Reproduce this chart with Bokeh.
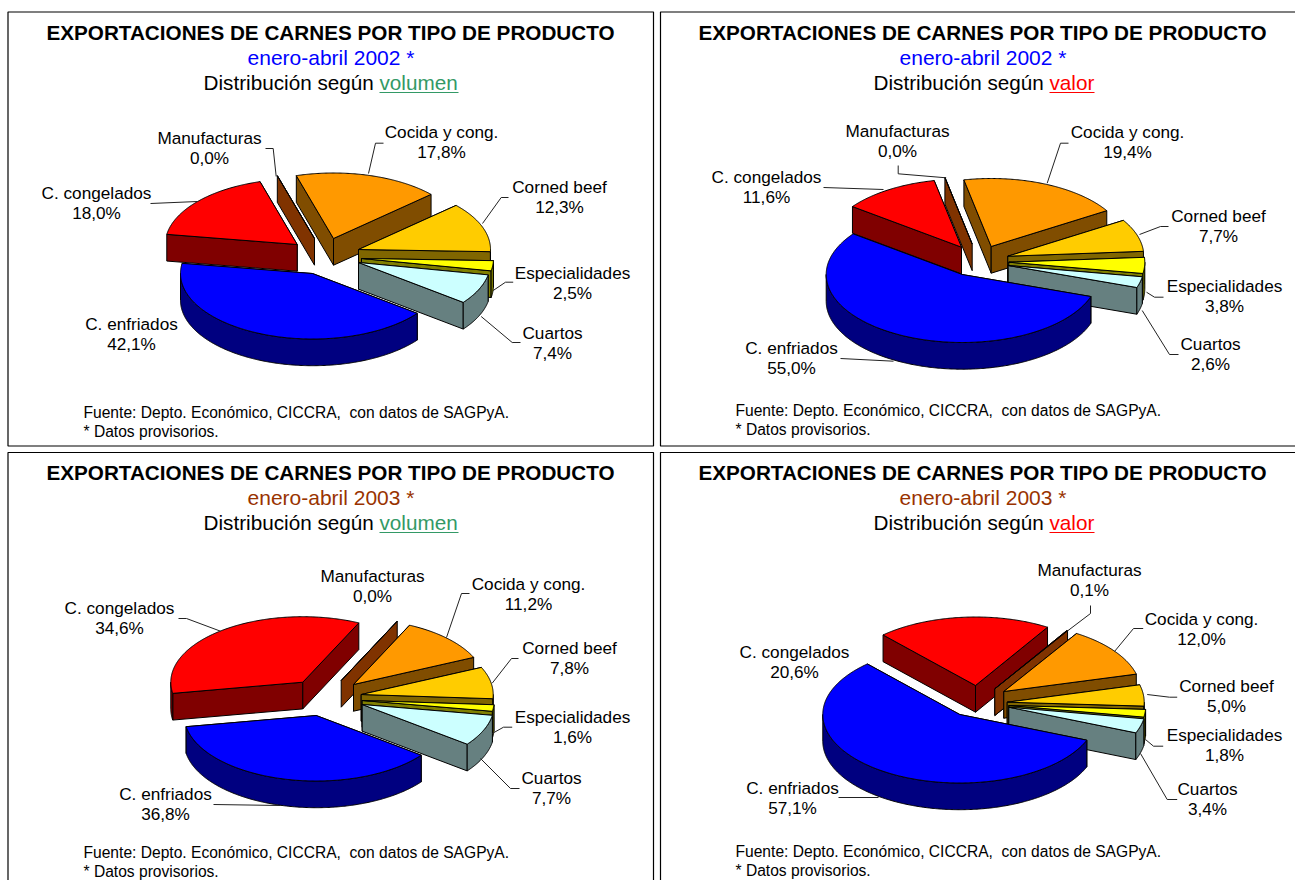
import math
import numpy as np
from bokeh.models import Range1d
from bokeh.plotting import figure
from bokeh.embed import file_html
from bokeh.resources import INLINE
from bokeh.core.properties import value

# ---------- data ----------
categories = ["C. enfriados", "C. congelados", "Manufacturas", "Cocida y cong.",
              "Corned beef", "Especialidades", "Cuartos"]
volumen_2002 = [42.1, 18.0, 0.0, 17.8, 12.3, 2.5, 7.4]
valor_2002 = [55.0, 11.6, 0.0, 19.4, 7.7, 3.8, 2.6]
volumen_2003 = [36.8, 34.6, 0.0, 11.2, 7.8, 1.6, 7.7]
valor_2003 = [57.1, 20.6, 0.1, 12.0, 5.0, 1.8, 3.4]

title_text = "EXPORTACIONES DE CARNES POR TIPO DE PRODUCTO"
source_text = "Fuente: Depto. Económico, CICCRA, \u00a0con datos de SAGPyA."
note_text = "* Datos provisorios."

# ---------- styles ----------
top_colors = ["#0000FF", "#FF0000", "#993300", "#FF9900", "#FFCC00", "#FFFF00", "#CCFFFF"]
wall_colors = ["#000080", "#800000", "#803300", "#804D00", "#806600", "#808000", "#668080"]
FONT = value("Liberation Sans")
W, H = 1295, 880
DEPTH = 26.7
DRAW_ORDER = [1, 2, 3, 4, 5, 6, 0]
BIG, MID, SMALL = "20.7px", "17.2px", "15.6px"

# ---------- layout: order of the lists follows `categories` ----------
panels = [
    dict(values=volumen_2002, cx=330, subtitle="enero-abril 2002 *", sub_color="#0000FF",
         word="volumen", word_color="#339966", split=379, ys=(32, 57, 82), foot=(83, 412, 431),
         rx=132, ry=65.5, start=127.5,
         hubs=[(312, 273), (296.7, 244), (314, 238), (333, 238), (358, 249), (361, 258), (358, 262)],
         labels=[(131, 323), (96, 192), (209, 137), (441, 131), (559, 186), (572, 272), (552, 332)],
         leaders=[None,
                  [(150, 203), (197, 201)],
                  [(265, 148), (272.7, 148), (275.7, 176)],
                  [(383, 142.7), (375, 142.7), (368, 173)],
                  [(508, 197), (500.7, 197), (482, 223)],
                  [(512.7, 281.7), (505, 281.7), (492.7, 290)],
                  [(520, 342), (511.7, 342), (480.7, 316)]]),
    dict(values=valor_2002, cx=982, subtitle="enero-abril 2002 *", sub_color="#0000FF",
         word="valor", word_color="#FF0000", split=1049, ys=(32, 57, 82), foot=(735, 410, 429),
         rx=136, ry=68, start=108.9,
         hubs=[(961.7, 274), (961, 246.7), (971.7, 243.5), (990.7, 246), (1007.3, 255.7), (1008.3, 261.7), (1007.7, 265)],
         labels=[(791, 347), (766, 176), (897, 130), (1127, 131), (1218, 215), (1224, 285), (1210, 343)],
         leaders=[[(840, 358), (893, 360.7)],
                  [(823, 187), (883, 189)],
                  [(897.7, 165), (897.7, 173.3), (945.7, 177.3)],
                  [(1068, 142.7), (1060, 142.7), (1046.7, 182.7)],
                  [(1168, 226), (1160, 226), (1139, 234)],
                  [(1163, 296.7), (1154, 296.7), (1146, 291.7)],
                  [(1178, 354), (1169, 354), (1141.7, 310)]]),
    dict(values=volumen_2003, cx=330, subtitle="enero-abril 2003 *", sub_color="#993300",
         word="volumen", word_color="#339966", split=379, ys=(472, 497, 522), foot=(83, 852, 871),
         rx=132, ry=65.5, start=127.3,
         hubs=[(315.7, 715), (302.3, 681.7), (340.7, 680), (353, 684), (360.7, 694), (361.7, 700), (361.7, 704)],
         labels=[(165, 793), (119, 607), (372, 575), (528, 583), (569, 647), (572, 716), (551, 777)],
         leaders=[[(213, 804), (280, 805)],
                  [(178, 618), (186, 618), (220, 630.7)],
                  None,
                  [(469, 593), (461, 593), (446, 637)],
                  [(518, 658), (511, 658), (491.7, 682.7)],
                  [(511.7, 726.7), (503, 726.7), (491.7, 733)],
                  [(519, 788), (510, 788), (480, 758)]]),
    dict(values=valor_2003, cx=982, subtitle="enero-abril 2003 *", sub_color="#993300",
         word="valor", word_color="#FF0000", split=1049, ys=(472, 497, 522), foot=(735, 851, 870),
         rx=137, ry=68.5, start=112,
         hubs=[(959.3, 714), (975, 685), (994.3, 688.3), (1003.3, 691), (1006.7, 701.7), (1008.3, 705), (1008.3, 706.7)],
         labels=[(792, 787), (794, 651), (1089, 569), (1201, 618), (1226, 685), (1224, 734), (1207, 788)],
         leaders=[[(838, 797), (878, 797)],
                  None,
                  [(1090, 605), (1090, 613), (1066.7, 630.7)],
                  [(1142.7, 628), (1133, 628), (1114, 651)],
                  [(1176.7, 696.7), (1169, 696.7), (1146.7, 694)],
                  [(1162.7, 745.7), (1153, 745.7), (1145, 739)],
                  [(1176.7, 799), (1166.7, 799), (1140, 753)]]),
]
frames = [(7.5, 653, 11.5, 445.5), (660, 1297, 11.5, 445.5),
          (7.5, 653, 452, 883), (660, 1297, 452, 883)]

p = figure(width=W, height=H, output_backend="svg", toolbar_location=None,
           x_range=Range1d(0, W), y_range=Range1d(H, 0),
           min_border=0, outline_line_color=None)
p.xaxis.visible = False
p.yaxis.visible = False
p.grid.visible = False
p.background_fill_color = "white"


def rim(hub, rx, ry, deg, drop=0.0):
    t = np.radians(deg)
    return hub[0] + rx * np.sin(t), hub[1] - ry * np.cos(t) + drop


def wall(hub, rx, ry, deg, color):
    ex, ey = rim(hub, rx, ry, deg)
    xs = [hub[0], ex, ex, hub[0]]
    ys = [hub[1], ey, ey + DEPTH, hub[1] + DEPTH]
    p.patch(xs, ys, fill_color=color, line_color="black", line_width=1)


def draw_slice(hub, rx, ry, a, b, top, side):
    mid = (a + b) / 2
    mx, my = math.sin(math.radians(mid)) * rx, -math.cos(math.radians(mid)) * ry
    hidden, shown = [], []
    if b - a < 0.2:
        shown.append(a)
    else:
        for edge in (a, b):
            ex, ey = math.sin(math.radians(edge)) * rx, -math.cos(math.radians(edge)) * ry
            cross = ex * my - ey * mx
            (shown if ex * cross < 0 else hidden).append(edge)
    for edge in hidden + shown:
        wall(hub, rx, ry, edge, side)
    for shift in (-360, 0, 360):
        lo, hi = max(a, 90 + shift), min(b, 270 + shift)
        if hi > lo:
            th = np.linspace(lo, hi, int(hi - lo) * 2 + 2)
            xs, ys = rim(hub, rx, ry, th)
            _, ys2 = rim(hub, rx, ry, th[::-1], DEPTH)
            p.patch(np.r_[xs, xs[::-1]], np.r_[ys, ys2], fill_color=side,
                    line_color="black", line_width=1)
    th = np.linspace(a, b, max(int(b - a) * 2, 2))
    xs, ys = rim(hub, rx, ry, th)
    p.patch(np.r_[hub[0], xs], np.r_[hub[1], ys], fill_color=top,
            line_color="black", line_width=1)


def put(x, y, text, size, color="black", align="center", style="normal"):
    p.text([x], [y], text=[text], text_font=FONT, text_font_size=size, text_color=color,
           text_align=align, text_baseline="middle", text_font_style=style)


for left, right, top, bottom in frames:
    p.quad(left=[left], right=[right], top=[top], bottom=[bottom], fill_color=None,
           line_color="black", line_width=1.2)

for P in panels:
    vals = P["values"]
    total = sum(vals)
    edges = [P["start"]]
    for v in vals:
        edges.append(edges[-1] + 360 * v / total)
    for i in DRAW_ORDER:
        draw_slice(P["hubs"][i], P["rx"], P["ry"], edges[i], edges[i + 1],
                   top_colors[i], wall_colors[i])
    for i, cat in enumerate(categories):
        if P["leaders"][i]:
            pts = P["leaders"][i]
            p.line([q[0] for q in pts], [q[1] for q in pts], line_color="#222222", line_width=1)
        lx, ly = P["labels"][i]
        put(lx, ly, cat, MID)
        put(lx, ly + 20.7, f"{vals[i]:.1f}".replace(".", ",") + "%", MID)

    y1, y2, y3 = P["ys"]
    put(P["cx"], y1, title_text, BIG, style="bold")
    put(P["cx"] + 0.5, y2, P["subtitle"], "21px", color=P["sub_color"])
    put(P["split"], y3, "Distribución según\u00a0", BIG, align="right")
    put(P["split"], y3, P["word"], BIG, color=P["word_color"], align="left")
    word_w = 79 if P["word"] == "volumen" else 45
    p.line([P["split"], P["split"] + word_w], [y3 + 10, y3 + 10],
           line_color=P["word_color"], line_width=1.2)
    fx, fy1, fy2 = P["foot"]
    put(fx, fy1, source_text, SMALL, align="left")
    put(fx, fy2, note_text, SMALL, align="left")

open("out.html", "w").write(file_html(p, INLINE))
